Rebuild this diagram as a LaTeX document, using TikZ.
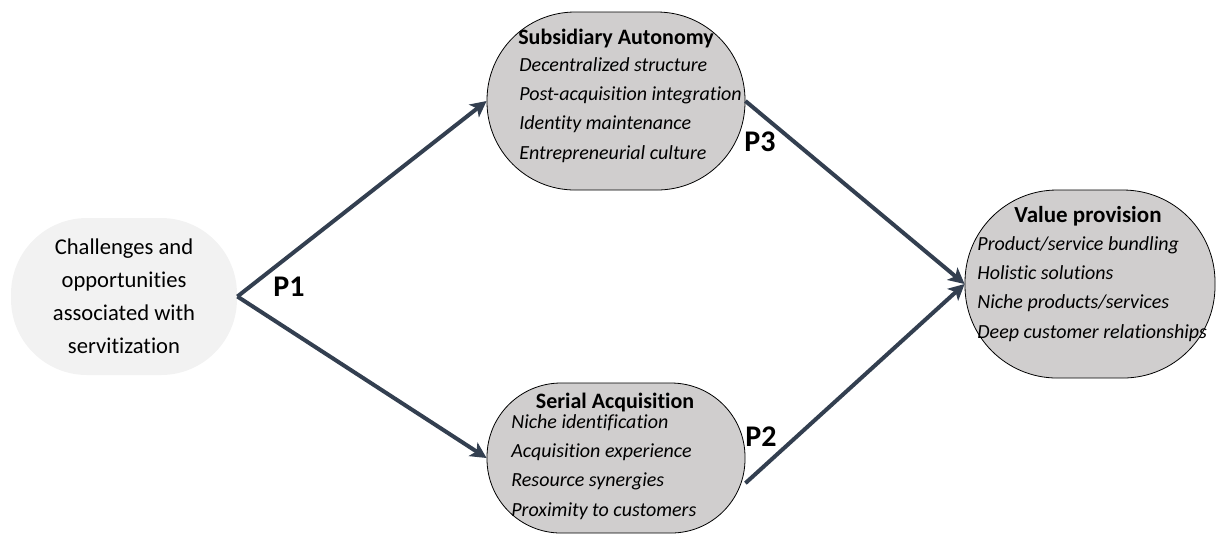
\documentclass[tikz,border=0pt]{standalone}
\usepackage{fontspec}
\setmainfont{Carlito}[Ligatures=NoCommon]
\usetikzlibrary{arrows.meta}
\definecolor{arrowcol}{HTML}{333F50}
\definecolor{boxgray}{HTML}{D0CECE}
\definecolor{lightgray}{HTML}{F2F2F2}
\tikzset{
  greybox/.style={draw=black, fill=boxgray, inner sep=0pt},
  title/.style={font=\fontsize{11}{13}\selectfont\bfseries},
  items/.style={font=\fontsize{10}{14.6}\selectfont\itshape, align=left, anchor=west, inner sep=0pt},
  plabel/.style={font=\fontsize{15}{17}\selectfont\bfseries},
  link/.style={draw=arrowcol, line width=2pt, -{Stealth[length=8pt,width=8pt,inset=2pt]}}
}
\begin{document}
\begin{tikzpicture}[x=0.5pt, y=-0.5pt]
\useasboundingbox (0,0) rectangle (1219,538);
% left node
\node[fill=lightgray, rounded corners=38pt, minimum width=113pt, minimum height=78.5pt,
  align=center, font=\fontsize{11.3}{16.5}\selectfont] (chal) at (124,296.5)
  {Challenges and\\opportunities\\associated with\\servitization};
% boxes
\node[greybox, rounded corners=44pt, minimum width=129pt, minimum height=89pt] (sa) at (616,101) {};
\node[greybox, rounded corners=37pt, minimum width=129pt, minimum height=75pt] (sq) at (616,458) {};
\node[greybox, rounded corners=46pt, minimum width=125pt, minimum height=94pt] (vp) at (1090,284) {};
% box texts
\node[title] (satitle) at (616,38) {Subsidiary Autonomy};
\node[items] (saitems) at (519,110) {Decentralized structure\\Post-acquisition integration\\Identity maintenance\\Entrepreneurial culture};
\node[title] (sqtitle) at (615,402) {Serial Acquisition};
\node[items] (sqitems) at (511,467) {Niche identification\\Acquisition experience\\Resource synergies\\Proximity to customers};
\node[title, font=\fontsize{11.5}{13}\selectfont\bfseries] (vptitle) at (1088,216) {Value provision};
\node[items] (vpitems) at (977,289) {Product/service bundling\\Holistic solutions\\Niche products/services\\Deep customer relationships};
% arrows
\coordinate (fork) at (chal.east);
\draw[link] (fork) -- (sa.west);
\draw[link] (fork) -- (sq.west);
\draw[link] (sa.east) -- (vp.west);
\draw[link] (sq.-11.6) -- (vp.west);
% labels
\node[plabel] (p1) at (289,287) {P1};
\node[plabel] (p3) at (760,142) {P3};
\node[plabel] (p2) at (761,437) {P2};
\end{tikzpicture}
\end{document}
